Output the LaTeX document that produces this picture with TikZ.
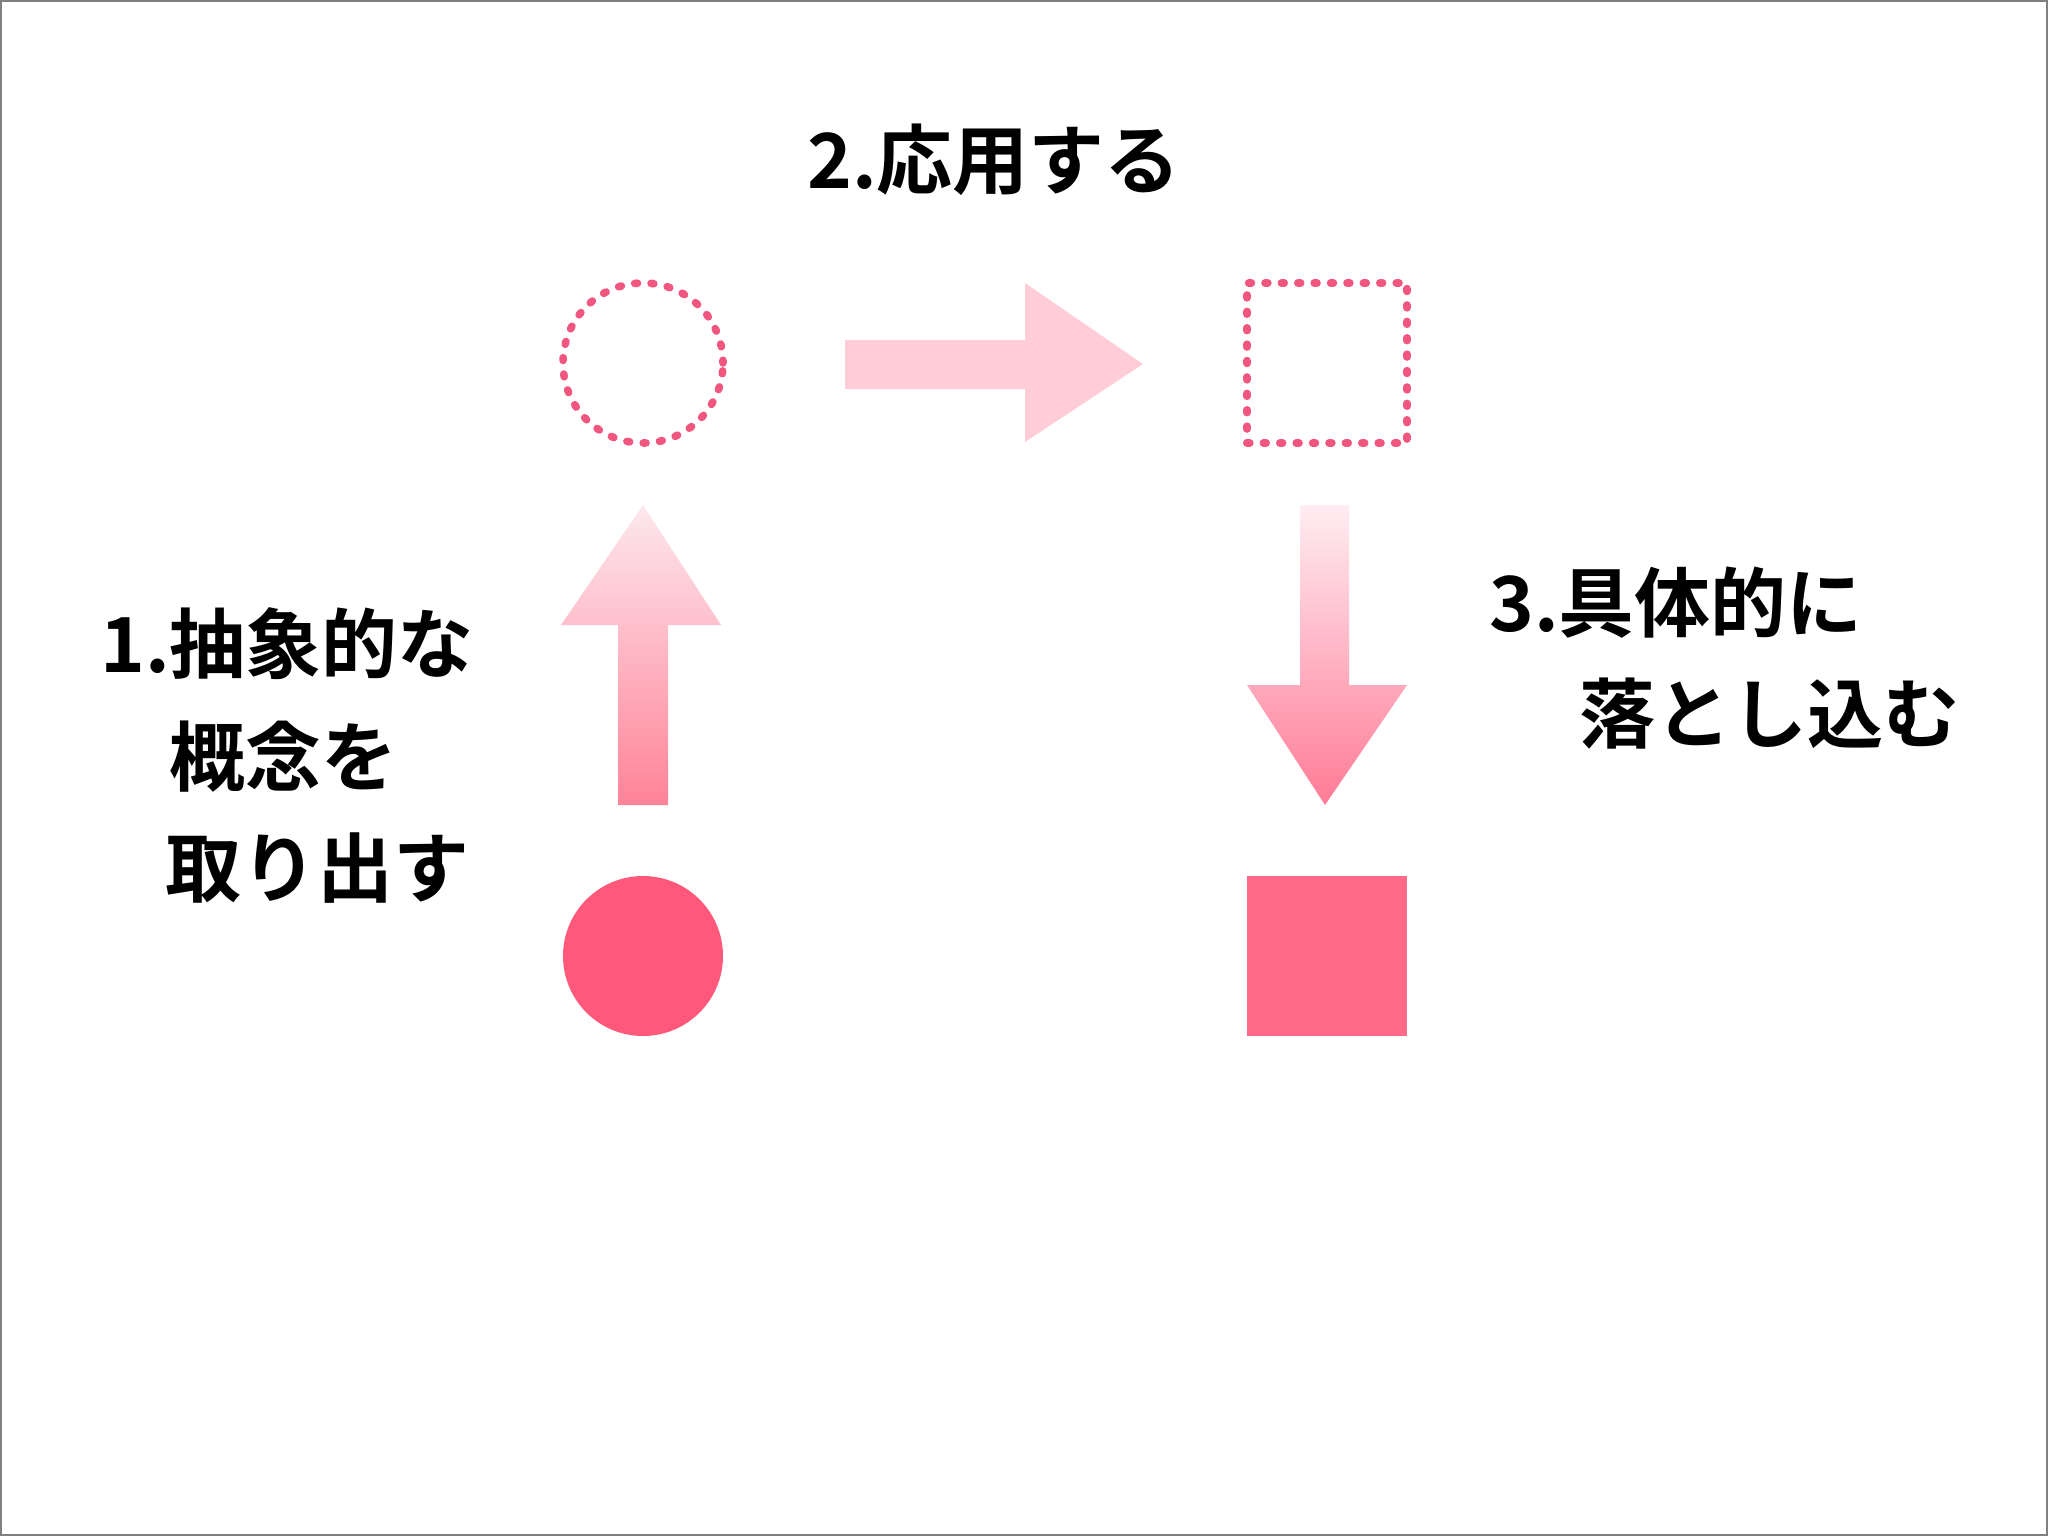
\documentclass[tikz,border=0pt]{standalone}
\usepackage{fontspec}
\newfontfamily\jp{Noto Sans CJK JP}[BoldFont={* Bold}]
\definecolor{dotpink}{HTML}{F0567E}
\definecolor{circfill}{HTML}{FF587A}
\definecolor{sqfill}{HTML}{FF6A88}
\definecolor{arrowlight}{HTML}{FFCDD7}
\definecolor{uptop}{HTML}{FDE8EE}
\definecolor{upbot}{HTML}{FF8398}
\definecolor{dntop}{HTML}{FFEDF2}
\definecolor{dnbot}{HTML}{FF7B96}
\begin{document}
\begin{tikzpicture}[x=0.5pt,y=-0.5pt,
  dotline/.style={draw=dotpink,line width=3.8pt,line cap=round,dash pattern=on 1.4pt off 6.8pt},
  label/.style={font=\jp\bfseries\fontsize{38}{38}\selectfont,inner sep=0pt,anchor=base west,text=black}]
\useasboundingbox (0,0) rectangle (2048,1536);
\draw[gray,line width=1pt] (1,1) rectangle (2047,1535);
% shapes
\node[circle,minimum size=80pt,inner sep=0pt,dotline] (c1) at (643,363) {};
\node[rectangle,minimum size=80pt,inner sep=0pt,dotline] (s1) at (1327,363) {};
\node[circle,minimum size=80pt,inner sep=0pt,fill=circfill] (c2) at (643,956) {};
\node[rectangle,minimum size=80pt,inner sep=0pt,fill=sqfill] (s2) at (1327,956) {};
% arrows
\fill[arrowlight] (845,340) -- (1025,340) -- (1025,283) -- (1143,364) -- (1025,442) -- (1025,389) -- (845,389) -- cycle;
\shade[top color=uptop,bottom color=upbot] (643,505) -- (721,625) -- (668,625) -- (668,805) -- (618,805) -- (618,625) -- (561,625) -- cycle;
\shade[top color=dntop,bottom color=dnbot] (1300,505) -- (1349,505) -- (1349,685) -- (1407,685) -- (1325,805) -- (1247,685) -- (1300,685) -- cycle;
% texts
\node[label] (t2) at (807,188) {2.応用する};
\node[label] (t1a) at (100,672) {1.抽象的な};
\node[label] (t1b) at (169,785) {概念を};
\node[label] (t1c) at (165,896) {取り出す};
\node[label] (t3a) at (1489,631) {3.具体的に};
\node[label] (t3b) at (1579,742) {落とし込む};
\end{tikzpicture}
\end{document}
